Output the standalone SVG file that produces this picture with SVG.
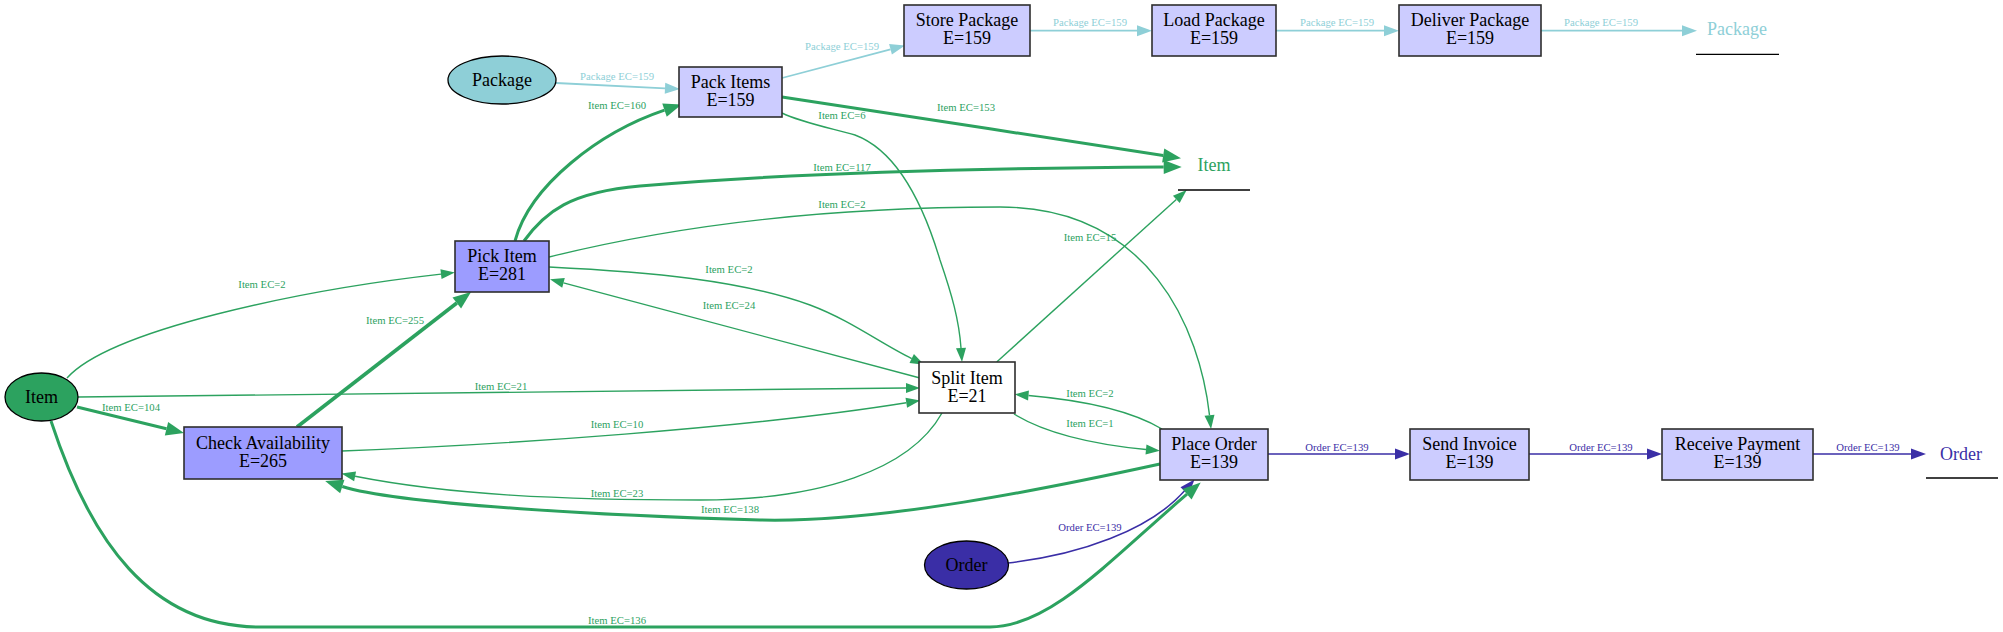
<svg xmlns="http://www.w3.org/2000/svg" width="2003" height="632" viewBox="0 0 2003 632">
<style>
.nt{font-family:"Liberation Serif","Times New Roman",serif;font-size:18px;text-anchor:middle;fill:#000}
.el{font-family:"Liberation Serif","Times New Roman",serif;font-size:10.7px;text-anchor:middle}
.box{stroke:#2e2e2e;stroke-width:1.6}
.lo{fill:#ccccff}
.hi{fill:#9c9cff}
.g{fill:none;stroke:#2ca25f}
.thin{stroke-width:1.4}
.thick{stroke-width:3}
.pk{fill:none;stroke:#8ecfd7;stroke-width:1.8}
.or{fill:none;stroke:#3a2ea6;stroke-width:1.6}
.gl{fill:#2ca25f}
.pl{fill:#8ecfd7}
.ol{fill:#3a2ea6}
</style>
<defs>
<marker id="mg" markerUnits="userSpaceOnUse" markerWidth="14" markerHeight="10" refX="0" refY="5" orient="auto" overflow="visible"><path d="M0,0 L14,5 L0,10 Z" fill="#2ca25f"/></marker>
<marker id="mgT" markerUnits="userSpaceOnUse" markerWidth="18" markerHeight="14" refX="0" refY="7" orient="auto" overflow="visible"><path d="M0,0 L18,7 L0,14 Z" fill="#2ca25f"/></marker>
<marker id="mp" markerUnits="userSpaceOnUse" markerWidth="15" markerHeight="11" refX="0" refY="5.5" orient="auto" overflow="visible"><path d="M0,0 L15,5.5 L0,11 Z" fill="#8ecfd7"/></marker>
<marker id="mo" markerUnits="userSpaceOnUse" markerWidth="15" markerHeight="11" refX="0" refY="5.5" orient="auto" overflow="visible"><path d="M0,0 L15,5.5 L0,11 Z" fill="#3a2ea6"/></marker>
</defs>
<rect width="2003" height="632" fill="#fff"/>

<g id="connectors">
<!-- Package flow -->
<path class="pk" d="M556,83 L665,88.3" marker-end="url(#mp)"/>
<text class="el pl" x="617" y="79.5">Package EC=159</text>
<path class="pk" d="M782,78 L890.5,49.3" marker-end="url(#mp)"/>
<text class="el pl" x="842" y="49.5">Package EC=159</text>
<path class="pk" d="M1030,30.7 L1137,30.7" marker-end="url(#mp)"/>
<text class="el pl" x="1090" y="25.5">Package EC=159</text>
<path class="pk" d="M1276,30.7 L1384,30.7" marker-end="url(#mp)"/>
<text class="el pl" x="1337" y="25.5">Package EC=159</text>
<path class="pk" d="M1541,30.7 L1682,30.7" marker-end="url(#mp)"/>
<text class="el pl" x="1601" y="25.5">Package EC=159</text>

<!-- Order flow -->
<path class="or" d="M1008,563 C1080,555 1150,530 1184.6,490.8" marker-end="url(#mo)"/>
<text class="el ol" x="1090" y="531">Order EC=139</text>
<path class="or" d="M1268,454 L1395,454" marker-end="url(#mo)"/>
<text class="el ol" x="1337" y="451">Order EC=139</text>
<path class="or" d="M1529,454 L1647,454" marker-end="url(#mo)"/>
<text class="el ol" x="1601" y="451">Order EC=139</text>
<path class="or" d="M1813,454 L1911,454" marker-end="url(#mo)"/>
<text class="el ol" x="1868" y="451">Order EC=139</text>

<!-- Item flow -->
<path class="g thin" d="M67,378 C110,330 300,290 441,274.1" marker-end="url(#mg)"/>
<text class="el gl" x="262" y="288">Item EC=2</text>
<path class="g thick" d="M77,407 L166.5,428.7" marker-end="url(#mgT)"/>
<text class="el gl" x="131" y="411">Item EC=104</text>
<path class="g thin" d="M78,397 C300,394 600,390 906,388" marker-end="url(#mg)"/>
<text class="el gl" x="501" y="389.5">Item EC=21</text>
<path class="g thick" d="M51,421 C90,540 150,627 260,627 L990,627 C1050,627 1110,560 1187,494.2" marker-end="url(#mgT)"/>
<text class="el gl" x="617" y="623.5">Item EC=136</text>
<path class="g" style="stroke-width:3.6" d="M297,427 L456.8,303" marker-end="url(#mgT)"/>
<text class="el gl" x="395" y="324">Item EC=255</text>
<path class="g thin" d="M342,451 C500,445 750,428 906.3,402.8" marker-end="url(#mg)"/>
<text class="el gl" x="617" y="428">Item EC=10</text>
<path class="g thick" d="M515,241 C530,185 600,132 664.5,110.2" marker-end="url(#mgT)"/>
<text class="el gl" x="617" y="109">Item EC=160</text>
<path class="g thick" d="M524,241 C545,212 570,192 640,186 C800,172 1000,168 1163.7,167" marker-end="url(#mgT)"/>
<text class="el gl" x="842" y="171">Item EC=117</text>
<path class="g thin" d="M549,257 C650,232 800,207 1000,207 C1150,207 1200,330 1209.5,415.2" marker-end="url(#mg)"/>
<text class="el gl" x="842" y="208">Item EC=2</text>
<path class="g thin" d="M549,267 C650,272 740,280 810,305 C850,320 880,343 911.7,358.6" marker-end="url(#mg)"/>
<text class="el gl" x="729" y="273">Item EC=2</text>
<path class="g thin" d="M920,378 L563.5,282.9" marker-end="url(#mg)"/>
<text class="el gl" x="729" y="309">Item EC=24</text>
<path class="g thick" d="M782,97 C880,112 1050,138 1163.2,155.5" marker-end="url(#mgT)"/>
<text class="el gl" x="966" y="111">Item EC=153</text>
<path class="g thin" d="M782,113 C800,122 830,128 855,135 C895,150 922,200 940,260 C952,295 959,320 961,348" marker-end="url(#mg)"/>
<text class="el gl" x="842" y="119">Item EC=6</text>
<path class="g thin" d="M996.7,362 L1176.3,199.4" marker-end="url(#mg)"/>
<text class="el gl" x="1090" y="241">Item EC=15</text>
<path class="g thin" d="M942,413 C910,470 820,500 700,500 C560,500 450,495 355.1,476.3" marker-end="url(#mg)"/>
<text class="el gl" x="617" y="497">Item EC=23</text>
<path class="g thin" d="M1014,414 C1040,430 1080,443 1146,449.5" marker-end="url(#mg)"/>
<text class="el gl" x="1090" y="427">Item EC=1</text>
<path class="g thin" d="M1162,429 C1130,410 1080,400 1028.5,395.5" marker-end="url(#mg)"/>
<text class="el gl" x="1090" y="397">Item EC=2</text>
<path class="g thick" d="M1160,464 C1050,488 880,523 760,520 C620,516 400,505 342.3,486.5" marker-end="url(#mgT)"/>
<text class="el gl" x="730" y="513">Item EC=138</text>
</g>

<g id="node-package-src">
<ellipse cx="502" cy="80" rx="54" ry="24" fill="#8ecfd7" stroke="#000" stroke-width="1.3"/>
<text class="nt" x="502" y="86">Package</text>
</g>
<g id="node-pack-items">
<rect class="box lo" x="679" y="67" width="103" height="50"/>
<text class="nt" x="730.5" y="87.5">Pack Items</text>
<text class="nt" x="730.5" y="105.5">E=159</text>
</g>
<g id="node-store-package">
<rect class="box lo" x="904" y="5" width="126" height="51"/>
<text class="nt" x="967" y="26">Store Package</text>
<text class="nt" x="967" y="44">E=159</text>
</g>
<g id="node-load-package">
<rect class="box lo" x="1152" y="5" width="124" height="51"/>
<text class="nt" x="1214" y="26">Load Package</text>
<text class="nt" x="1214" y="44">E=159</text>
</g>
<g id="node-deliver-package">
<rect class="box lo" x="1399" y="5" width="142" height="51"/>
<text class="nt" x="1470" y="26">Deliver Package</text>
<text class="nt" x="1470" y="44">E=159</text>
</g>
<g id="node-package-sink">
<text class="nt" x="1737" y="35" style="fill:#8ecfd7">Package</text>
<line x1="1696" y1="54.3" x2="1779" y2="54.3" stroke="#000" stroke-width="1.3"/>
</g>
<g id="node-item-sink">
<text class="nt" x="1214" y="171" style="fill:#2ca25f">Item</text>
<line x1="1178" y1="190" x2="1250" y2="190" stroke="#000" stroke-width="1.3"/>
</g>
<g id="node-pick-item">
<rect class="box hi" x="455" y="241" width="94" height="51"/>
<text class="nt" x="502" y="262">Pick Item</text>
<text class="nt" x="502" y="280">E=281</text>
</g>
<g id="node-item-src">
<ellipse cx="41.5" cy="397" rx="36.5" ry="24" fill="#2ca25f" stroke="#000" stroke-width="1.3"/>
<text class="nt" x="41.5" y="402.5">Item</text>
</g>
<g id="node-check-availability">
<rect class="box hi" x="184" y="427" width="158" height="52"/>
<text class="nt" x="263" y="448.5">Check Availability</text>
<text class="nt" x="263" y="466.5">E=265</text>
</g>
<g id="node-split-item">
<rect class="box" x="919" y="362" width="96" height="51" fill="#fff"/>
<text class="nt" x="967" y="383.5">Split Item</text>
<text class="nt" x="967" y="401.5">E=21</text>
</g>
<g id="node-place-order">
<rect class="box lo" x="1160" y="429" width="108" height="51"/>
<text class="nt" x="1214" y="450">Place Order</text>
<text class="nt" x="1214" y="468">E=139</text>
</g>
<g id="node-order-src">
<ellipse cx="966.5" cy="565" rx="42" ry="24" fill="#3a2ea6" stroke="#000" stroke-width="1.3"/>
<text class="nt" x="966.5" y="570.5">Order</text>
</g>
<g id="node-send-invoice">
<rect class="box lo" x="1410" y="429" width="119" height="51"/>
<text class="nt" x="1469.5" y="450">Send Invoice</text>
<text class="nt" x="1469.5" y="468">E=139</text>
</g>
<g id="node-receive-payment">
<rect class="box lo" x="1662" y="429" width="151" height="51"/>
<text class="nt" x="1737.5" y="450">Receive Payment</text>
<text class="nt" x="1737.5" y="468">E=139</text>
</g>
<g id="node-order-sink">
<text class="nt" x="1961" y="460" style="fill:#3a2ea6">Order</text>
<line x1="1926" y1="478" x2="1998" y2="478" stroke="#000" stroke-width="1.3"/>
</g>
</svg>
